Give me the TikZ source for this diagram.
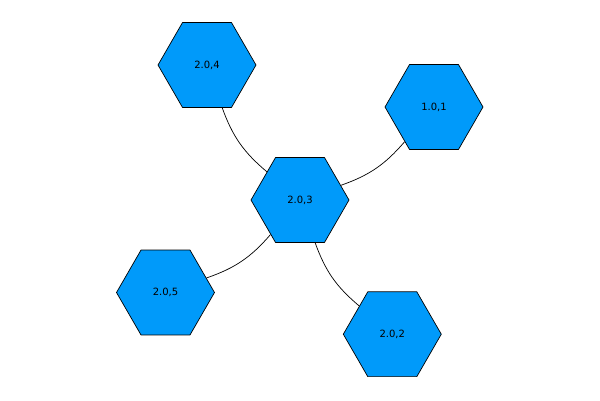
\documentclass[tikz,border=0pt]{standalone}
\usepackage{fontspec}
\setmainfont{DejaVu Sans}
\usetikzlibrary{shapes.geometric}
\definecolor{hexfill}{HTML}{009AFA}
\begin{document}
\begin{tikzpicture}[x=1pt,y=-1pt,
  hexnode/.style={regular polygon, regular polygon sides=6, inner sep=0pt,
    minimum size=98pt, fill=hexfill, draw=black, line width=0.7pt,
    font=\fontsize{10}{12}\selectfont},
  link/.style={draw=black, line width=0.7pt, bend right=15}]
\useasboundingbox (0,0) rectangle (600,400);
\node[hexnode] (n4) at (207,65) {2.0,4};
\node[hexnode] (n1) at (434,107) {1.0,1};
\node[hexnode] (n3) at (300,200) {2.0,3};
\node[hexnode] (n5) at (165.5,292.5) {2.0,5};
\node[hexnode] (n2) at (392.3,334.2) {2.0,2};
\path (n4) edge[link] (n3)
      (n5) edge[link] (n3)
      (n3) edge[link] (n1)
      (n3) edge[link] (n2);
\end{tikzpicture}
\end{document}
